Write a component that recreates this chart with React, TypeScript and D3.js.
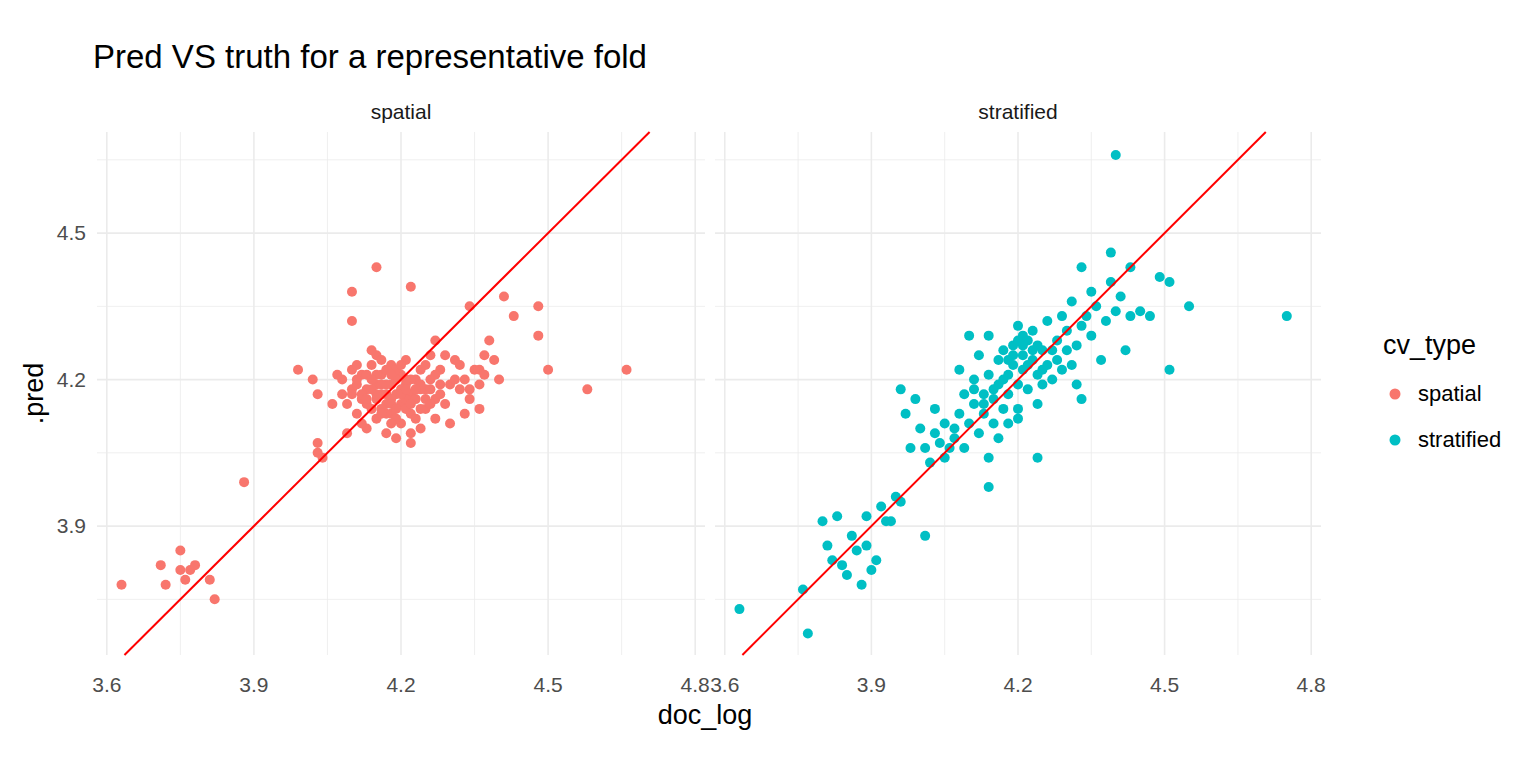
import React, { useEffect, useRef } from 'react';
import * as d3 from 'd3';

const panels = ['spatial', 'stratified'];
const colors = ['#F8766D', '#00BFC4'];
const xTicks = [3.6, 3.9, 4.2, 4.5, 4.8];
const yTicks = [3.9, 4.2, 4.5];

const spatialX = [3.63, 3.71, 3.72, 3.75, 3.75, 3.76, 3.77, 3.78, 3.81, 3.82, 3.88, 3.99, 4.02, 4.03, 4.03, 4.03, 4.04, 4.10, 4.10, 4.15, 4.22, 4.34, 4.41, 4.48, 4.48, 4.50, 4.58, 4.66, 4.36, 4.43, 4.27,
  4.08, 4.09, 4.10, 4.10, 4.11, 4.11, 4.12, 4.12, 4.13, 4.13, 4.14, 4.14, 4.15, 4.15, 4.15, 4.16, 4.16, 4.17, 4.17, 4.18, 4.18, 4.18, 4.19, 4.19, 4.20, 4.20, 4.20, 4.21, 4.21, 4.22, 4.22, 4.22, 4.23, 4.23, 4.24, 4.24, 4.25, 4.25, 4.26, 4.26, 4.27, 4.27, 4.28, 4.28, 4.29, 4.30, 4.30, 4.31, 4.32, 4.33, 4.34, 4.35, 4.36, 4.37, 4.38, 4.39, 4.36, 4.33, 4.14, 4.12, 4.09, 4.08, 4.16, 4.19, 4.21, 4.24, 4.13, 4.17, 4.20, 4.25, 4.18, 4.22, 4.15, 4.11, 4.27, 4.29, 4.06, 4.07, 4.32, 4.40,
  4.12, 4.13, 4.14, 4.15, 4.16, 4.16, 4.17, 4.17, 4.18, 4.19, 4.19, 4.20, 4.21, 4.21, 4.22, 4.23, 4.23, 4.24, 4.25, 4.26, 4.14, 4.15, 4.17, 4.18, 4.20, 4.22, 4.24, 4.11, 4.13, 4.19, 4.21, 4.26, 4.28, 4.31, 4.34, 4.37, 4.10, 4.16, 4.18, 4.23];
const spatialY = [3.78, 3.82, 3.78, 3.85, 3.81, 3.79, 3.81, 3.82, 3.79, 3.75, 3.99, 4.22, 4.20, 4.17, 4.07, 4.05, 4.04, 4.38, 4.32, 4.43, 4.39, 4.35, 4.37, 4.35, 4.29, 4.22, 4.18, 4.22, 4.22, 4.33, 4.28,
  4.20, 4.15, 4.18, 4.22, 4.13, 4.19, 4.21, 4.16, 4.10, 4.18, 4.23, 4.14, 4.19, 4.25, 4.12, 4.17, 4.21, 4.15, 4.09, 4.19, 4.23, 4.13, 4.17, 4.08, 4.21, 4.15, 4.11, 4.19, 4.24, 4.17, 4.13, 4.07, 4.20, 4.16, 4.22, 4.10, 4.18, 4.14, 4.20, 4.25, 4.16, 4.12, 4.19, 4.22, 4.15, 4.19, 4.11, 4.24, 4.18, 4.20, 4.16, 4.22, 4.19, 4.25, 4.28, 4.24, 4.14, 4.13, 4.26, 4.11, 4.09, 4.17, 4.24, 4.20, 4.16, 4.18, 4.21, 4.19, 4.18, 4.23, 4.16, 4.20, 4.16, 4.23, 4.21, 4.25, 4.15, 4.21, 4.23, 4.20,
  4.17, 4.15, 4.18, 4.21, 4.14, 4.19, 4.17, 4.22, 4.15, 4.14, 4.22, 4.17, 4.14, 4.20, 4.15, 4.18, 4.12, 4.14, 4.16, 4.18, 4.20, 4.17, 4.13, 4.21, 4.23, 4.09, 4.19, 4.20, 4.16, 4.12, 4.18, 4.15, 4.17, 4.20, 4.18, 4.21, 4.17, 4.13, 4.11, 4.18];

const stratX = [3.63, 3.77, 3.76, 4.40, 4.75, 4.55, 4.51, 4.49, 4.51, 4.24, 4.14, 4.01, 4.39, 4.33, 4.43,
  3.80, 3.81, 3.82, 3.83, 3.84, 3.85, 3.86, 3.87, 3.88, 3.89, 3.89, 3.90, 3.91, 3.92, 3.93, 3.94, 3.95, 3.96, 3.96, 3.97, 3.98, 3.99, 4.00, 4.01, 4.02, 4.03, 4.03, 4.04, 4.05, 4.06, 4.07, 4.08, 4.08, 4.09, 4.09, 4.10, 4.10, 4.11, 4.11, 4.12, 4.12, 4.13, 4.13, 4.14, 4.14, 4.15, 4.15, 4.16, 4.16, 4.17, 4.17, 4.18, 4.18, 4.19, 4.19, 4.20, 4.20, 4.20, 4.21, 4.21, 4.22, 4.22, 4.23, 4.23, 4.24, 4.24, 4.25, 4.25, 4.26, 4.26, 4.27, 4.28, 4.28, 4.29, 4.29, 4.30, 4.30, 4.31, 4.31, 4.32, 4.32, 4.33, 4.33, 4.34, 4.35, 4.35, 4.36, 4.37, 4.38, 4.39, 4.40, 4.41, 4.42, 4.43, 4.45, 4.47, 4.20, 4.18, 4.16, 4.07, 4.05, 4.14, 4.11, 4.24, 4.27, 4.21,
  4.19, 4.21, 4.22, 4.23, 4.18, 4.20, 4.25, 4.17, 4.13, 4.15];
const stratY = [3.73, 3.68, 3.77, 4.66, 4.33, 4.35, 4.22, 4.41, 4.40, 4.04, 3.98, 3.88, 4.46, 4.43, 4.43,
  3.91, 3.86, 3.83, 3.92, 3.82, 3.80, 3.88, 3.85, 3.78, 3.86, 3.92, 3.81, 3.83, 3.94, 3.91, 3.91, 3.96, 3.95, 4.18, 4.13, 4.06, 4.16, 4.10, 4.06, 4.03, 4.09, 4.14, 4.07, 4.11, 4.06, 4.08, 4.22, 4.13, 4.06, 4.17, 4.29, 4.11, 4.15, 4.20, 4.09, 4.25, 4.17, 4.13, 4.21, 4.29, 4.16, 4.11, 4.24, 4.19, 4.26, 4.14, 4.21, 4.17, 4.27, 4.23, 4.31, 4.19, 4.12, 4.25, 4.22, 4.28, 4.18, 4.30, 4.24, 4.21, 4.27, 4.19, 4.26, 4.32, 4.23, 4.20, 4.28, 4.24, 4.33, 4.22, 4.26, 4.30, 4.36, 4.23, 4.27, 4.19, 4.31, 4.16, 4.33, 4.29, 4.38, 4.35, 4.24, 4.32, 4.40, 4.34, 4.37, 4.26, 4.33, 4.34, 4.33, 4.14, 4.11, 4.08, 4.10, 4.04, 4.04, 4.18, 4.15, 4.26, 4.29,
  4.25, 4.27, 4.23, 4.26, 4.24, 4.28, 4.22, 4.20, 4.15, 4.18];

const App: React.FC = () => {
  const svgRef = useRef<SVGSVGElement>(null);

  useEffect(() => {
    if (!svgRef.current) return;
    const svg = d3.select(svgRef.current);
    svg.selectAll('*').remove();

    const font = 'Liberation Sans, Arial, sans-serif';
    const top = 132, bottom = 655;
    const panelX = [[97, 705], [715, 1321]];
    const y = d3.scaleLinear().domain([3.636, 4.707]).range([bottom, top]);
    const xs = [spatialX, stratX];
    const ys = [spatialY, stratY];

    panels.forEach((name, i) => {
      const x = d3.scaleLinear().domain([3.58, 4.82]).range(panelX[i]);
      const g = svg.append('g');
      const xMinor = [3.75, 4.05, 4.35, 4.65];
      const yMinor = [3.75, 4.05, 4.35, 4.65];
      g.selectAll('.xm').data(xMinor).join('line')
        .attr('x1', d => x(d)).attr('x2', d => x(d)).attr('y1', top).attr('y2', bottom)
        .attr('stroke', '#EBEBEB').attr('stroke-width', 0.8);
      g.selectAll('.ym').data(yMinor).join('line')
        .attr('x1', panelX[i][0]).attr('x2', panelX[i][1]).attr('y1', d => y(d)).attr('y2', d => y(d))
        .attr('stroke', '#EBEBEB').attr('stroke-width', 0.8);
      g.selectAll('.xM').data(xTicks).join('line')
        .attr('x1', d => x(d)).attr('x2', d => x(d)).attr('y1', top).attr('y2', bottom)
        .attr('stroke', '#EBEBEB').attr('stroke-width', 1.6);
      g.selectAll('.yM').data(yTicks).join('line')
        .attr('x1', panelX[i][0]).attr('x2', panelX[i][1]).attr('y1', d => y(d)).attr('y2', d => y(d))
        .attr('stroke', '#EBEBEB').attr('stroke-width', 1.6);

      g.append('text').attr('x', (panelX[i][0] + panelX[i][1]) / 2).attr('y', 119)
        .attr('text-anchor', 'middle').attr('font-family', font).attr('font-size', 21)
        .attr('fill', '#1A1A1A').text(name);

      g.selectAll('.xt').data(xTicks).join('text')
        .attr('x', d => x(d)).attr('y', 692).attr('text-anchor', 'middle')
        .attr('font-family', font).attr('font-size', 21).attr('fill', '#4D4D4D')
        .text(d => d.toFixed(1));
      if (i === 0) {
        g.selectAll('.yt').data(yTicks).join('text')
          .attr('x', 86).attr('y', d => y(d) + 7).attr('text-anchor', 'end')
          .attr('font-family', font).attr('font-size', 21).attr('fill', '#4D4D4D')
          .text(d => d.toFixed(1));
      }

      const pts = xs[i].map((v, k) => [v, ys[i][k]]);
      g.selectAll('circle').data(pts).join('circle')
        .attr('cx', d => x(d[0])).attr('cy', d => y(d[1])).attr('r', 5)
        .attr('fill', colors[i]);

      // y = x reference line, clipped to panel
      const lo = 3.636, hi = 4.707;
      g.append('line').attr('x1', x(lo)).attr('y1', y(lo)).attr('x2', x(hi)).attr('y2', y(hi))
        .attr('stroke', '#FF0000').attr('stroke-width', 2);
    });

    svg.append('text').attr('x', 93).attr('y', 68).attr('font-family', font)
      .attr('font-size', 33).attr('fill', '#000').text('Pred VS truth for a representative fold');
    svg.append('text').attr('x', 705).attr('y', 724).attr('text-anchor', 'middle')
      .attr('font-family', font).attr('font-size', 27).attr('fill', '#000').text('doc_log');
    svg.append('text').attr('transform', `translate(43,${(top + bottom) / 2}) rotate(-90)`)
      .attr('text-anchor', 'middle').attr('font-family', font).attr('font-size', 27)
      .attr('fill', '#000').text('.pred');

    svg.append('text').attr('x', 1383).attr('y', 354).attr('font-family', font)
      .attr('font-size', 27).attr('fill', '#000').text('cv_type');
    panels.forEach((name, i) => {
      svg.append('circle').attr('cx', 1395).attr('cy', 394 + i * 46).attr('r', 5.5).attr('fill', colors[i]);
      svg.append('text').attr('x', 1418).attr('y', 401 + i * 46).attr('font-family', font)
        .attr('font-size', 22).attr('fill', '#000').text(name);
    });
  }, []);

  return <svg ref={svgRef} width={1536} height={768} style={{ position: 'absolute', left: 0, top: 0, background: '#fff' }} />;
};

export default App;
